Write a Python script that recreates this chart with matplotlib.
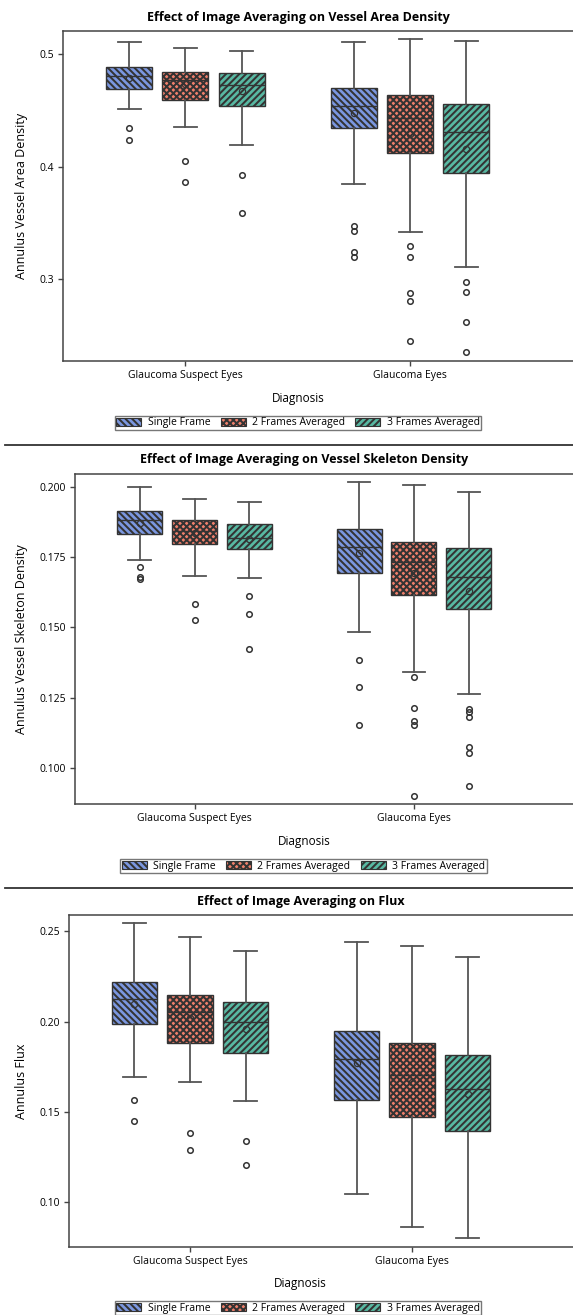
import matplotlib
matplotlib.use("Agg")
import matplotlib.pyplot as plt
from matplotlib.patches import Patch
from matplotlib.lines import Line2D

plt.rcParams['font.family'] = ['Open Sans', 'DejaVu Sans']
plt.rcParams['hatch.linewidth'] = 1.45

# categories / series
groups = ['Glaucoma Suspect Eyes', 'Glaucoma Eyes']
series = ['Single Frame', '2 Frames Averaged', '3 Frames Averaged']
colors = ['#7b97e0', '#f0806c', '#58b8a2']
hatches = ['\\\\\\\\\\', 'xxxxx', '/////']

# order of boxes: suspect (SF, 2F, 3F), glaucoma (SF, 2F, 3F)
# vessel area density
vad_whislo = [0.4513, 0.4353, 0.4195, 0.3845, 0.3420, 0.3108]
vad_q1 = [0.4688, 0.4596, 0.4540, 0.4341, 0.4121, 0.3943]
vad_med = [0.4804, 0.4768, 0.4727, 0.4540, 0.4430, 0.4305]
vad_q3 = [0.4887, 0.4842, 0.4834, 0.4700, 0.4635, 0.4557]
vad_whishi = [0.5112, 0.5059, 0.5027, 0.5107, 0.5136, 0.5116]
vad_mean = [0.4790, 0.4733, 0.4676, 0.4475, 0.4294, 0.4159]
vad_fliers = [[0.4341, 0.4234], [0.4053, 0.3866], [0.3925, 0.3590],
              [0.3470, 0.3430, 0.3238, 0.3196],
              [0.3297, 0.3196, 0.2873, 0.2807, 0.2448],
              [0.2973, 0.2886, 0.2613, 0.2349]]

# vessel skeleton density
vsd_whislo = [0.1741, 0.1682, 0.1677, 0.1484, 0.1342, 0.1263]
vsd_q1 = [0.1833, 0.1798, 0.1778, 0.1695, 0.1617, 0.1565]
vsd_med = [0.1882, 0.1843, 0.1819, 0.1786, 0.1731, 0.1680]
vsd_q3 = [0.1915, 0.1883, 0.1868, 0.1851, 0.1804, 0.1783]
vsd_whishi = [0.2000, 0.1957, 0.1945, 0.2017, 0.2005, 0.1981]
vsd_mean = [0.1872, 0.1835, 0.1813, 0.1763, 0.1692, 0.1631]
vsd_fliers = [[0.1715, 0.1678, 0.1671], [0.1583, 0.1528], [0.1612, 0.1549, 0.1423],
              [0.1386, 0.1290, 0.1154],
              [0.1325, 0.1213, 0.1166, 0.1154, 0.0902],
              [0.1212, 0.1200, 0.1183, 0.1075, 0.1054, 0.0937]]

# flux
flx_whislo = [0.1694, 0.1663, 0.1559, 0.1044, 0.0861, 0.0800]
flx_q1 = [0.1987, 0.1883, 0.1826, 0.1567, 0.1469, 0.1393]
flx_med = [0.2126, 0.2054, 0.2000, 0.1791, 0.1706, 0.1626]
flx_q3 = [0.2221, 0.2148, 0.2111, 0.1950, 0.1883, 0.1815]
flx_whishi = [0.2544, 0.2469, 0.2389, 0.2444, 0.2417, 0.2356]
flx_mean = [0.2098, 0.2022, 0.1961, 0.1769, 0.1667, 0.1600]
flx_fliers = [[0.1567, 0.1450], [0.1380, 0.1287], [0.1337, 0.1206], [], [], []]

W, H = 573, 1315
EDGE = '#333333'


def make_stats(lo, q1, med, q3, hi, mean, fl):
    out = []
    for i in range(len(lo)):
        out.append(dict(whislo=lo[i], q1=q1[i], med=med[i], q3=q3[i], whishi=hi[i],
                        mean=mean[i], fliers=fl[i]))
    return out


def panel(fig, rect, stats, title, ylabel, ylim, yticks, yfmt, title_x, title_y,
          xlab_y, leg_x, leg_y):
    ax = fig.add_axes(rect)
    positions = []
    for g in range(len(groups)):
        for s in range(len(series)):
            positions.append(g + (s - 1) * 0.25)
    arts = ax.bxp(stats, positions=positions, widths=0.205, patch_artist=True,
                  showmeans=True, showcaps=True,
                  boxprops=dict(edgecolor=EDGE, linewidth=1.0),
                  medianprops=dict(color=EDGE, linewidth=1.0),
                  whiskerprops=dict(color='#555555', linewidth=1.3),
                  capprops=dict(color='#555555', linewidth=1.3),
                  meanprops=dict(marker='o', markerfacecolor='none', markeredgecolor=EDGE,
                                 markersize=4.5, markeredgewidth=0.9),
                  flierprops=dict(marker='o', markerfacecolor='none', markeredgecolor='#333333',
                                  markersize=4, markeredgewidth=1.1))
    for i, b in enumerate(arts['boxes']):
        b.set_facecolor(colors[i % 3])
        b.set_hatch(hatches[i % 3])
    ax.set_xlim(-0.545, 1.725)
    ax.set_ylim(*ylim)
    ax.set_xticks([0, 1])
    ax.set_xticklabels(groups, fontsize=7.5)
    ax.set_yticks(yticks)
    ax.set_yticklabels([yfmt % v for v in yticks], fontsize=7.5)
    ax.tick_params(length=3.5, width=1.0, color='#444444', pad=3)
    ax.set_ylabel(ylabel, fontsize=9, labelpad=8)
    ax.spines['right'].set_visible(False)
    for sp in ['left', 'top', 'bottom']:
        ax.spines[sp].set_color('#444444')
        ax.spines[sp].set_linewidth(1.1)
    fig.text(title_x / W, 1 - title_y / H, title, fontsize=9, fontweight='bold',
             ha='center', va='center')
    fig.text(title_x / W, 1 - xlab_y / H, 'Diagnosis', fontsize=8.5, ha='center', va='center')
    handles = [Patch(facecolor=colors[k], edgecolor=EDGE, hatch=hatches[k], linewidth=0.8)
               for k in range(3)]
    leg = fig.legend(handles, series, loc='center', bbox_to_anchor=(leg_x / W, 1 - leg_y / H),
                     ncol=3, fontsize=7.5, frameon=True, fancybox=False, edgecolor='#555555',
                     handlelength=2.4, handleheight=0.9, handletextpad=0.6, columnspacing=1.0,
                     borderpad=0.15, borderaxespad=0)
    leg.get_frame().set_linewidth(1.0)
    return ax


fig = plt.figure(figsize=(W / 100, H / 100), dpi=100)

panel(fig, [63 / W, 1 - 361 / H, 1 - 63 / W, 330 / H],
      make_stats(vad_whislo, vad_q1, vad_med, vad_q3, vad_whishi, vad_mean, vad_fliers),
      'Effect of Image Averaging on Vessel Area Density', 'Annulus Vessel Area Density',
      (0.227, 0.5207), [0.3, 0.4, 0.5], '%.1f', 298, 17, 398, 298, 423)

panel(fig, [75 / W, 1 - 804 / H, 1 - 75 / W, 330 / H],
      make_stats(vsd_whislo, vsd_q1, vsd_med, vsd_q3, vsd_whishi, vsd_mean, vsd_fliers),
      'Effect of Image Averaging on Vessel Skeleton Density', 'Annulus Vessel Skeleton Density',
      (0.0873, 0.2045), [0.100, 0.125, 0.150, 0.175, 0.200], '%.3f', 304, 460, 842, 303.5, 866)

panel(fig, [69 / W, 1 - 1247 / H, 1 - 69 / W, 332 / H],
      make_stats(flx_whislo, flx_q1, flx_med, flx_q3, flx_whishi, flx_mean, flx_fliers),
      'Effect of Image Averaging on Flux', 'Annulus Flux',
      (0.075, 0.2591), [0.10, 0.15, 0.20, 0.25], '%.2f', 300.7, 902, 1283, 298, 1308)

# separators between the three graphs
for yy in [445, 888]:
    fig.add_artist(Line2D([5 / W, 1], [1 - yy / H, 1 - yy / H], transform=fig.transFigure,
                          color='#333333', linewidth=1.3))

fig.savefig('out.png', dpi=100)
